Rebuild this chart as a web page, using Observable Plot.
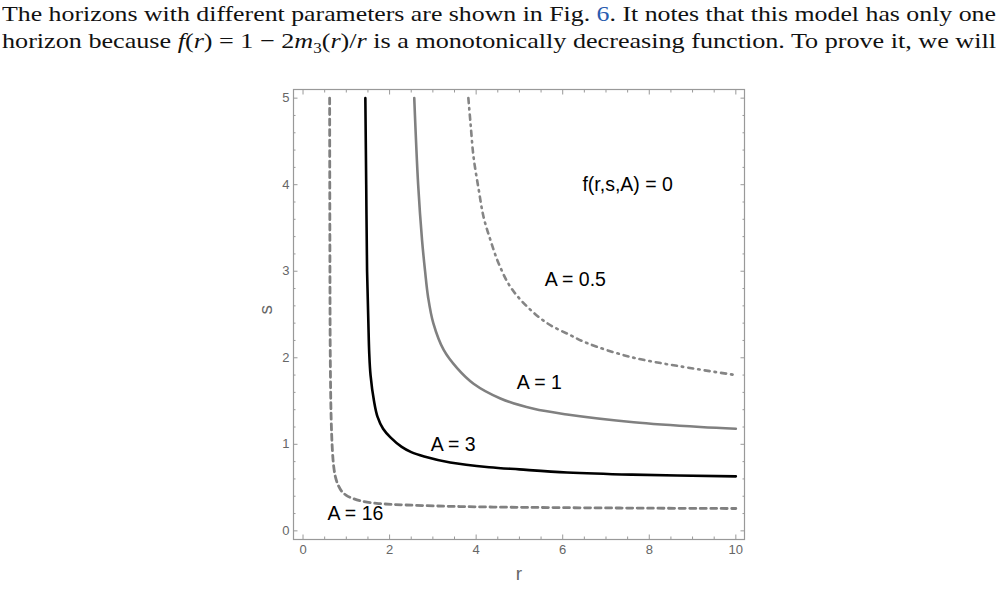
<!DOCTYPE html>
<html>
<head>
<meta charset="utf-8">
<script src="https://cdn.jsdelivr.net/npm/d3@7"></script>
<script src="https://cdn.jsdelivr.net/npm/@observablehq/plot@0.6"></script>
<style>
  html, body { margin: 0; padding: 0; background: #fff; }
  body { width: 998px; height: 590px; overflow: hidden; }
  #head { height: 60px; box-sizing: border-box; padding: 1px 2px 0 2px; font-family: "Liberation Serif", "DejaVu Serif", serif; font-size: 21.5px; line-height: 27px; color: #111; }
  #head .line { display: block; height: 27px; }
  #head .line span.fit { display: inline-block; white-space: nowrap; transform-origin: 0 50%; }
  #head .ref { color: #2a5db0; }
  #chart svg { display: block; }
</style>
</head>
<body>
<div id="head">
  <div class="line"><span class="fit">The horizons with different parameters are shown in Fig. <span class="ref">6</span>. It notes that this model has only one</span></div>
  <div class="line"><span class="fit">horizon because <i>f</i>(<i>r</i>) = 1 − 2<i>m</i><sub style="font-size:14px;line-height:0">3</sub>(<i>r</i>)/<i>r</i> is a monotonically decreasing function. To prove it, we will</span></div>
</div>
<div id="chart"></div>
<script>
// ---- data ----
const rA16 = [0.615, 0.62, 0.63, 0.65, 0.68, 0.71, 0.75, 0.81, 0.89, 1.0, 1.15, 1.35, 1.7, 2.1, 3.25, 4.4, 6.0, 8.0, 10.0];
const sA16 = [5.0, 3.5, 2.0, 1.3, 0.92, 0.74, 0.62, 0.53, 0.46, 0.41, 0.375, 0.345, 0.318, 0.305, 0.285, 0.275, 0.268, 0.262, 0.258];

const rA3 = [1.44, 1.46, 1.48, 1.51, 1.53, 1.56, 1.64, 1.72, 1.85, 2.02, 2.28, 2.5, 2.8, 3.4, 4.3, 5.0, 6.1, 7.6, 10.0];
const sA3 = [5.0, 4.0, 3.0, 2.4, 2.05, 1.8, 1.5, 1.32, 1.18, 1.08, 0.97, 0.91, 0.86, 0.79, 0.735, 0.71, 0.675, 0.65, 0.63];

const rA1 = [2.57, 2.66, 2.75, 2.82, 2.89, 3.01, 3.25, 3.56, 3.94, 4.56, 5.33, 6.1, 7.64, 9.18, 10.0];
const sA1 = [5.0, 4.0, 3.36, 3.0, 2.7, 2.4, 2.09, 1.88, 1.70, 1.53, 1.41, 1.345, 1.255, 1.2, 1.18];

const rA05 = [3.82, 3.87, 3.94, 4.06, 4.17, 4.33, 4.52, 4.79, 5.18, 5.64, 6.18, 6.56, 7.56, 8.72, 10.0];
const sA05 = [5.0, 4.71, 4.32, 3.94, 3.63, 3.36, 3.09, 2.82, 2.59, 2.40, 2.26, 2.17, 2.01, 1.90, 1.80];

const labelText = ["f(r,s,A) = 0", "A = 0.5", "A = 1", "A = 3", "A = 16"];
const labelR = [7.5, 6.29, 5.46, 3.47, 1.21];
const labelS = [4.0, 2.9, 1.71, 0.99, 0.2];

const xMajor = [0, 2, 4, 6, 8, 10];
const xMinor = [0.5, 1, 1.5, 2.5, 3, 3.5, 4.5, 5, 5.5, 6.5, 7, 7.5, 8.5, 9, 9.5];
const yMajor = [0, 1, 2, 3, 4, 5];
const yMinor = [0.2, 0.4, 0.6, 0.8, 1.2, 1.4, 1.6, 1.8, 2.2, 2.4, 2.6, 2.8, 3.2, 3.4, 3.6, 3.8, 4.2, 4.4, 4.6, 4.8];

const toPts = (R, S) => R.map((r, i) => ({r, s: S[i]}));
const labels = labelText.map((t, i) => ({t, r: labelR[i], s: labelS[i]}));

const frameGray = "#999999";
const labelGray = "#666666";
const blank = () => "";
const tickFont = 13;

const chart = Plot.plot({
  width: 998,
  height: 530,
  marginTop: 29,
  marginBottom: 51,
  marginLeft: 293,
  marginRight: 254,
  style: { fontFamily: "'Liberation Sans', Arial, sans-serif", background: "#fff" },
  x: { domain: [-0.22, 10.2] },
  y: { domain: [-0.1, 5.1] },
  marks: [
    Plot.frame({ stroke: frameGray, strokeWidth: 1.2 }),
    // inward ticks on all four sides
    Plot.axisX({ anchor: "bottom", ticks: xMajor, tickSize: -4.5, stroke: frameGray, label: null, tickFormat: blank }),
    Plot.axisY({ anchor: "left", ticks: yMajor, tickSize: -4.5, stroke: frameGray, label: null, tickFormat: blank }),
    Plot.axisX({ anchor: "bottom", ticks: xMinor, tickSize: -2.5, stroke: frameGray, label: null, tickFormat: blank }),
    Plot.axisY({ anchor: "left", ticks: yMinor, tickSize: -2.5, stroke: frameGray, label: null, tickFormat: blank }),
    Plot.axisX({ anchor: "top", ticks: xMajor, tickSize: -4.5, stroke: frameGray, label: null, tickFormat: blank }),
    Plot.axisX({ anchor: "top", ticks: xMinor, tickSize: -2.5, stroke: frameGray, label: null, tickFormat: blank }),
    Plot.axisY({ anchor: "right", ticks: yMajor, tickSize: -4.5, stroke: frameGray, label: null, tickFormat: blank }),
    Plot.axisY({ anchor: "right", ticks: yMinor, tickSize: -2.5, stroke: frameGray, label: null, tickFormat: blank }),
    // tick labels
    Plot.text(xMajor, { x: d => d, frameAnchor: "bottom", dy: 14, text: d => String(d), fill: labelGray, fontSize: tickFont }),
    Plot.text(yMajor, { y: d => d, frameAnchor: "left", dx: -4, textAnchor: "end", text: d => String(d), fill: labelGray, fontSize: tickFont }),
    // axis labels
    Plot.text(["r"], { frameAnchor: "bottom", dy: 40, text: d => d, fill: labelGray, fontSize: 19 }),
    Plot.text(["s"], { frameAnchor: "left", dx: -28, text: d => d, rotate: -90, fill: labelGray, fontSize: 19 }),
    // curves
    Plot.line(toPts(rA16, sA16), { x: "r", y: "s", curve: "catmull-rom", stroke: "#808080", strokeWidth: 2.8, strokeDasharray: "6,4.5" }),
    Plot.line(toPts(rA3, sA3), { x: "r", y: "s", curve: "catmull-rom", stroke: "#000", strokeWidth: 2.6 }),
    Plot.line(toPts(rA1, sA1), { x: "r", y: "s", curve: "catmull-rom", stroke: "#808080", strokeWidth: 2.6 }),
    Plot.line(toPts(rA05, sA05), { x: "r", y: "s", curve: "catmull-rom", stroke: "#858585", strokeWidth: 2.6, strokeDasharray: "5,5,1.5,5" }),
    // annotations
    Plot.text(labels, { x: "r", y: "s", text: "t", fill: "#000", fontSize: 19.5 })
  ]
});
document.getElementById("chart").appendChild(chart);

// stretch each header line to the full text width, like the justified LaTeX lines
document.querySelectorAll("#head span.fit").forEach(el => {
  const w = el.getBoundingClientRect().width;
  if (w > 0) el.style.transform = `scaleX(${994 / w})`;
});
</script>
</body>
</html>
